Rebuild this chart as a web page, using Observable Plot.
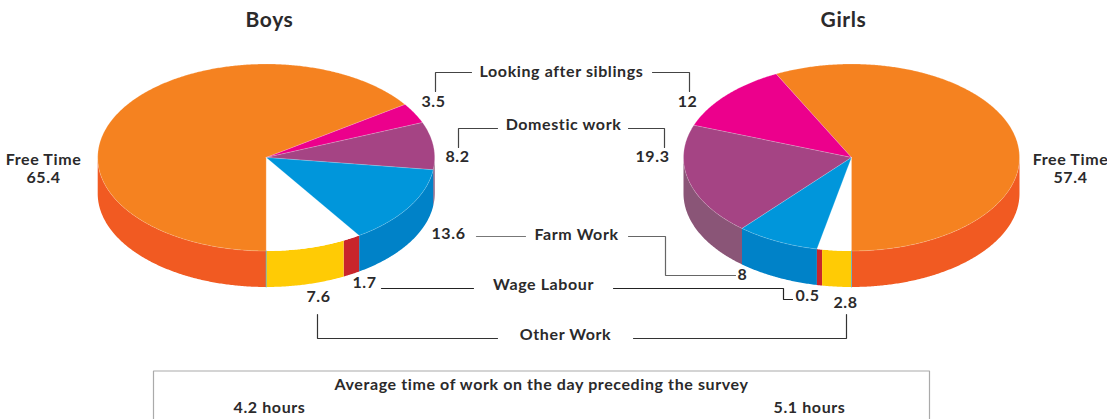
<!DOCTYPE html>
<html>
<head>
<meta charset="utf-8">
<script src="https://cdn.jsdelivr.net/npm/d3@7"></script>
<script src="https://cdn.jsdelivr.net/npm/@observablehq/plot@0.6"></script>
<style>
html,body{margin:0;padding:0;background:#fff}
svg{display:block}
svg text{letter-spacing:.6px}
</style>
</head>
<body>
<div id="chart"></div>
<script>
const categories = ["Free Time","Looking after siblings","Domestic work","Farm Work","Wage Labour","Other Work"];
const boys  = [65.4, 3.5, 8.2, 13.6, 1.7, 7.6];
const girls = [57.4, 12, 19.3, 8, 0.5, 2.8];
const topColors  = ["#F58220","#EC008C","#A54484","#0096DB","#FFFFFF","#FFFFFF"];
const sideColors = ["#F15A22","#EC008C","#8A5577","#0082C8","#C9252B","#FFCB05"];
const titles = ["Boys","Girls"];
const boxTitle = "Average time of work on the day preceding the survey";
const hours = ["4.2 hours","5.1 hours"];

const W = 1107, H = 419;
const pies = [
  {name:"Boys",  values:boys,  cx:265.7, cy:157, rx:168.5, ry:93.5, depth:36, dir:1},
  {name:"Girls", values:girls, cx:851, cy:157, rx:168, ry:93.5, depth:36, dir:-1}
];

const faces = [];
const seams = [];
for (const p of pies) {
  const pt = (deg, dz=0) => {
    const t = deg*Math.PI/180;
    return {x:p.cx+p.rx*Math.sin(t), y:p.cy-p.ry*Math.cos(t)+dz};
  };
  const arc = (a,b,dz=0) => {
    const n = Math.max(1,Math.ceil(Math.abs(b-a)/0.5));
    return d3.range(n+1).map(i => pt(a+(b-a)*i/n,dz));
  };
  const total = d3.sum(p.values);
  let ang = 180;
  seams.push({...pt(180,0),id:p.name},{...pt(180,p.depth),id:p.name});
  p.values.forEach((v,i) => {
    const next = ang + p.dir*v/total*360;
    const lo = Math.min(ang,next), hi = Math.max(ang,next);
    for (let k=-1;k<=1;k++){
      const a = Math.max(lo,90+360*k), b = Math.min(hi,270+360*k);
      if (b>a){
        const pts = [...arc(a,b,0), ...arc(b,a,p.depth)];
        pts.forEach(q => faces.push({...q,id:`${p.name}-side-${i}-${k}`,fill:sideColors[i],layer:0}));
      }
    }
    const pts = [{x:p.cx,y:p.cy}, ...arc(ang,next,0), {x:p.cx,y:p.cy}];
    pts.forEach(q => faces.push({...q,id:`${p.name}-top-${i}`,fill:topColors[i],layer:topColors[i]==="#FFFFFF"?2:1}));
    ang = next;
  });
}

const fmt = v => String(v);
const labels = [
  {t:titles[0],x:269,y:20,s:21},
  {t:titles[1],x:843,y:20,s:21},
  {t:categories[0],x:43,y:159},{t:fmt(boys[0]),x:43,y:177},
  {t:categories[0],x:1070,y:159},{t:fmt(girls[0]),x:1070,y:177},
  {t:categories[1],x:561,y:71},{t:categories[2],x:563,y:124},{t:categories[3],x:576,y:234},
  {t:categories[4],x:543,y:284},{t:categories[5],x:565,y:334},
  {t:fmt(boys[1]),x:433,y:101},{t:fmt(boys[2]),x:457,y:156},{t:fmt(boys[3]),x:448,y:233},
  {t:fmt(boys[4]),x:364,y:282},{t:fmt(boys[5]),x:318,y:296},
  {t:fmt(girls[1]),x:687,y:101},{t:fmt(girls[2]),x:652,y:156},{t:fmt(girls[3]),x:742,y:274},
  {t:fmt(girls[4]),x:807,y:295},{t:fmt(girls[5]),x:845,y:302},
  {t:boxTitle,x:541,y:384},{t:hours[0],x:269,y:407},{t:hours[1],x:809,y:407}
];

const leaders = [
  {c:"#444",pts:[[435,91],[435,72],[471,72]]},
  {c:"#444",pts:[[652,72],[689,72],[689,91]]},
  {c:"#444",pts:[[458,147],[458,128],[497,128]]},
  {c:"#444",pts:[[628,128],[664,128],[664,147]]},
  {c:"#777",pts:[[476,236],[525,236]]},
  {c:"#666",pts:[[628,236],[665,236],[665,275],[735,275]]},
  {c:"#222",pts:[[381,288],[473,288]]},
  {c:"#222",pts:[[613,288],[783,288],[783,299],[792,299]]},
  {c:"#333",pts:[[317,314],[317,338],[497,338]]},
  {c:"#333",pts:[[633,338],[846,338],[846,314]]},
  {c:"#aaa",pts:[[153,419],[153,370.5],[929,370.5],[929,419]]}
];
const leaderRows = leaders.flatMap((l,i)=>l.pts.map(([x,y])=>({x,y,id:i,c:l.c})));

const font = "Lato, sans-serif";
const chart = Plot.plot({
  width:W, height:H, margin:0,
  x:{domain:[0,W],range:[0,W],axis:null},
  y:{domain:[0,H],range:[0,H],axis:null},
  color:{type:"identity"},
  style:{background:"#fff",fontFamily:font},
  marks:[
    Plot.line(faces.filter(d=>d.layer===0),{x:"x",y:"y",z:"id",fill:"fill",stroke:"none"}),
    Plot.line(faces.filter(d=>d.layer===2),{x:"x",y:"y",z:"id",fill:"fill",stroke:"none"}),
    Plot.line(faces.filter(d=>d.layer===1),{x:"x",y:"y",z:"id",fill:"fill",stroke:"#fff",strokeOpacity:0.3,strokeWidth:0.6}),
    Plot.line(seams,{x:"x",y:"y",z:"id",stroke:"#4fb3d9",strokeWidth:0.8}),
    Plot.line(leaderRows,{x:"x",y:"y",z:"id",stroke:"c",strokeWidth:1.2,strokeLinejoin:"miter"}),
    Plot.text(labels,{x:"x",y:"y",text:"t",fontSize:d=>d.s||16,fontWeight:700,fill:"#2b2a2b",fontFamily:font,lineAnchor:"middle",textAnchor:"middle"})
  ]
});
document.getElementById("chart").appendChild(chart);
</script>
</body>
</html>
